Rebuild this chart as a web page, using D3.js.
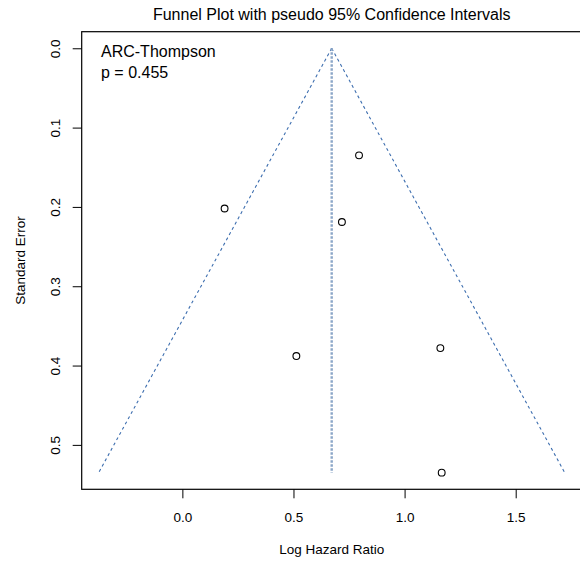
<!DOCTYPE html>
<html>
<head>
<meta charset="utf-8">
<script src="https://cdn.jsdelivr.net/npm/d3@7"></script>
<style>
  html, body { margin: 0; padding: 0; background: #fff; }
  svg { display: block; font-family: "Liberation Sans", Arial, Helvetica, sans-serif; }
</style>
</head>
<body>
<svg id="chart" width="580" height="565"></svg>
<script>
// ---- data ----
const studyEstimates = [0.795, 0.190, 0.718, 0.513, 1.161, 1.167]; // log hazard ratio
const studySE        = [0.135, 0.202, 0.219, 0.388, 0.378, 0.535]; // standard error
const pooledEstimate = 0.672;
const zCrit = 1.96;
const xTicks = [0.0, 0.5, 1.0, 1.5];
const yTicks = [0.0, 0.1, 0.2, 0.3, 0.4, 0.5];
const titleText = "Funnel Plot with pseudo 95% Confidence Intervals";
const xLabel = "Log Hazard Ratio";
const yLabel = "Standard Error";
const legendLines = ["ARC-Thompson", "p = 0.455"];

// ---- layout ----
const plot = { left: 81.7, right: 581.7, top: 31.7, bottom: 489.3 };
const svg = d3.select("#chart");

const x = d3.scaleLinear().domain([-0.453, 1.797]).range([plot.left, plot.right]);
const y = d3.scaleLinear().domain([-0.0209, 0.556]).range([plot.top, plot.bottom]);

const maxSE = d3.max(studySE);

// funnel lines
const funnelColor = "#3d6eaf";
const funnel = [
  [[pooledEstimate, 0], [pooledEstimate - zCrit * maxSE, maxSE]],
  [[pooledEstimate, 0], [pooledEstimate + zCrit * maxSE, maxSE]]
];
const line = d3.line().x(d => x(d[0])).y(d => y(d[1]));
svg.append("g").selectAll("path").data(funnel).join("path")
  .attr("d", line)
  .attr("fill", "none")
  .attr("stroke", funnelColor)
  .attr("stroke-width", 1.1)
  .attr("stroke-dasharray", "3,3");

// center line
svg.append("path")
  .attr("d", line([[pooledEstimate, 0], [pooledEstimate, maxSE]]))
  .attr("fill", "none")
  .attr("stroke", "#8ca7c8")
  .attr("stroke-width", 2.4)
  .attr("stroke-dasharray", "2.5,1.5");

// points
svg.append("g").selectAll("circle")
  .data(studyEstimates.map((e, i) => ({ e, se: studySE[i] })))
  .join("circle")
  .attr("cx", d => x(d.e))
  .attr("cy", d => y(d.se))
  .attr("r", 3.4)
  .attr("fill", "none")
  .attr("stroke", "#000")
  .attr("stroke-width", 1.1);

// axes
const xAxis = svg.append("g")
  .attr("transform", `translate(0,${plot.bottom})`)
  .call(d3.axisBottom(x).tickValues(xTicks).tickFormat(d3.format(".1f")).tickSize(9));
xAxis.select(".domain").remove();
xAxis.selectAll("line").attr("stroke", "#000");
xAxis.selectAll("text")
  .attr("y", 33).attr("dy", 0)
  .attr("fill", "#000")
  .style("font-size", "13.5px")
  .style("font-family", "'Liberation Sans', Arial, sans-serif");

const yAxis = svg.append("g")
  .attr("transform", `translate(${plot.left},0)`)
  .call(d3.axisLeft(y).tickValues(yTicks).tickFormat(d3.format(".1f")).tickSize(9));
yAxis.select(".domain").remove();
yAxis.selectAll("line").attr("stroke", "#000");
yAxis.selectAll("text")
  .attr("x", null).attr("dy", null)
  .attr("transform", "translate(-21.2,0) rotate(-90)")
  .attr("text-anchor", "middle")
  .attr("fill", "#000")
  .style("font-size", "13.5px")
  .style("font-family", "'Liberation Sans', Arial, sans-serif");

// box
svg.append("rect")
  .attr("x", plot.left).attr("y", plot.top)
  .attr("width", plot.right - plot.left).attr("height", plot.bottom - plot.top)
  .attr("fill", "none").attr("stroke", "#000").attr("stroke-width", 1.2);

// title
svg.append("text")
  .attr("x", (plot.left + plot.right) / 2).attr("y", 20)
  .attr("text-anchor", "middle")
  .style("font-size", "16px")
  .text(titleText);

// axis labels
svg.append("text")
  .attr("x", (plot.left + plot.right) / 2).attr("y", 554)
  .attr("text-anchor", "middle")
  .style("font-size", "13.5px")
  .text(xLabel);
svg.append("text")
  .attr("transform", `translate(24.5,${(plot.top + plot.bottom) / 2}) rotate(-90)`)
  .attr("text-anchor", "middle")
  .style("font-size", "13.5px")
  .text(yLabel);

// legend text
svg.append("g").selectAll("text").data(legendLines).join("text")
  .attr("x", 101)
  .attr("y", (d, i) => 56.5 + i * 21)
  .style("font-size", "16px")
  .text(d => d);
</script>
</body>
</html>
